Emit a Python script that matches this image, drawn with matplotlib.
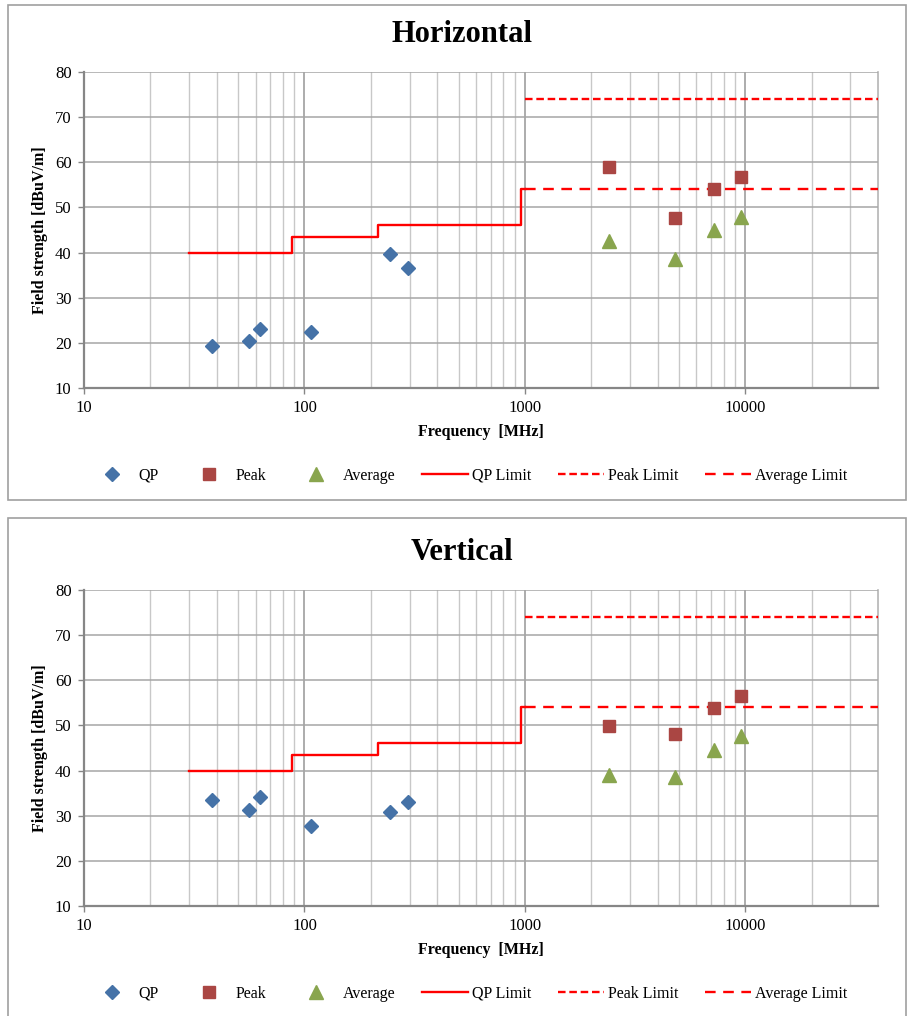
import matplotlib
matplotlib.use("Agg")
import matplotlib.pyplot as plt
from matplotlib.lines import Line2D
from matplotlib.patches import Rectangle
from matplotlib.ticker import LogLocator, FuncFormatter, NullFormatter

plt.rcParams['font.family'] = ['Liberation Serif', 'DejaVu Serif']

# ---- data ----
qp_freq = [38, 56, 63, 107, 244, 296]
h_qp = [19.2, 20.5, 23.1, 22.5, 39.7, 36.6]
v_qp = [33.5, 31.3, 34.1, 27.7, 30.8, 33.1]

hf_freq = [2400, 4800, 7200, 9600]
h_peak = [58.9, 47.6, 54.0, 56.8]
h_avg = [42.6, 38.5, 44.9, 47.8]
v_peak = [49.8, 48.0, 53.8, 56.5]
v_avg = [39.0, 38.5, 44.6, 47.7]

qp_limit_freq = [30, 88, 88, 216, 216, 960, 960, 1000]
qp_limit_val = [40, 40, 43.5, 43.5, 46, 46, 54, 54]
peak_limit_freq = [1000, 40000]
peak_limit_val = [74, 74]
avg_limit_freq = [1000, 40000]
avg_limit_val = [54, 54]

titles = ["Horizontal", "Vertical"]
x_ticks = [10, 100, 1000, 10000]
y_ticks = [10, 20, 30, 40, 50, 60, 70, 80]

c_qp = '#4572A7'
c_peak = '#AA4643'
c_avg = '#89A54E'
c_lim = '#FF0000'

ms_qp, ms_pk, ms_av = 7.6, 8.8, 10

W, H = 908, 1016
fig = plt.figure(figsize=(W / 100, H / 100), dpi=100)

def fx(px):
    return px / W

def fy(py):
    return 1 - py / H

panels = [
    dict(top=72, box=(8, 5, 906, 500), title_y=35, xl_y=432, leg_y=476, qp=h_qp, pk=h_peak, av=h_avg),
    dict(top=590, box=(8, 518, 906, 1030), title_y=553, xl_y=950, leg_y=994, qp=v_qp, pk=v_peak, av=v_avg),
]

for i, p in enumerate(panels):
    x0, y0, x1, y1 = p['box']
    fig.patches.append(Rectangle((fx(x0), fy(y1)), fx(x1 - x0), (y1 - y0) / H,
                                 transform=fig.transFigure, fill=False,
                                 edgecolor='#a0a0a0', linewidth=1.2, zorder=0))
    left, right = 84, 878
    top = p['top']
    bottom = top + 316
    ax = fig.add_axes([fx(left), fy(bottom), fx(right - left), 316 / H])
    ax.set_xscale('log')
    ax.set_xlim(10, 40000)
    ax.set_ylim(10, 80)
    ax.xaxis.set_minor_locator(LogLocator(base=10, subs=range(2, 10), numticks=20))
    ax.xaxis.set_major_formatter(FuncFormatter(lambda v, pos: f"{v:.0f}"))
    ax.xaxis.set_minor_formatter(NullFormatter())
    ax.set_xticks(x_ticks)
    ax.set_yticks(y_ticks)
    ax.grid(True, which='major', axis='y', color='#a6a6a6', linewidth=1.1)
    ax.grid(True, which='major', axis='x', color='#969696', linewidth=1.1)
    ax.grid(True, which='minor', axis='x', color='#c8c8c8', linewidth=1.0)
    ax.axvline(40000, color='#b4b4b4', linewidth=1.2, clip_on=False, zorder=0.5)
    ax.set_axisbelow(True)
    for s in ['top', 'right']:
        ax.spines[s].set_visible(False)
    for s in ['left', 'bottom']:
        ax.spines[s].set_color('#868686')
        ax.spines[s].set_linewidth(1.6)
    ax.tick_params(axis='both', which='major', length=4, width=1, color='#868686',
                   labelsize=12, pad=5)
    ax.tick_params(axis='x', which='minor', length=0)

    ax.plot(qp_limit_freq, qp_limit_val, color=c_lim, linewidth=1.7, label='QP Limit', zorder=3)
    ax.plot(peak_limit_freq, peak_limit_val, color=c_lim, linewidth=1.7,
            dashes=(3.2, 1.6), label='Peak Limit', zorder=3)
    ax.plot(avg_limit_freq, avg_limit_val, color=c_lim, linewidth=1.7,
            dashes=(4.5, 3.2), label='Average Limit', zorder=3)
    ax.plot(qp_freq, p['qp'], linestyle='none', marker='D', markersize=ms_qp,
            color=c_qp, label='QP', zorder=4)
    ax.plot(hf_freq, p['pk'], linestyle='none', marker='s', markersize=ms_pk,
            color=c_peak, label='Peak', zorder=4)
    ax.plot(hf_freq, p['av'], linestyle='none', marker='^', markersize=ms_av,
            color=c_avg, label='Average', zorder=4)

    fig.text(fx(462), fy(p['title_y']), titles[i], ha='center', va='center',
             fontsize=22, fontweight='bold')
    fig.text(fx(481), fy(p['xl_y']), 'Frequency  [MHz]', ha='center', va='center',
             fontsize=11.5, fontweight='bold')
    fig.text(fx(40), fy(top + 158), 'Field strength [dBuV/m]', ha='center', va='center',
             rotation=90, fontsize=11.5, fontweight='bold')

    handles = [
        Line2D([], [], linestyle='none', marker='D', markersize=ms_qp - 0.6, color=c_qp),
        Line2D([], [], linestyle='none', marker='s', markersize=ms_pk - 0.4, color=c_peak),
        Line2D([], [], linestyle='none', marker='^', markersize=ms_av - 0.5, color=c_avg),
        Line2D([], [], color=c_lim, linewidth=1.7),
        Line2D([], [], color=c_lim, linewidth=1.7, dashes=(3.2, 1.6)),
        Line2D([], [], color=c_lim, linewidth=1.7, dashes=(4.5, 3.2)),
    ]
    labels = ['QP', 'Peak', 'Average', 'QP Limit', 'Peak Limit', 'Average Limit']
    fig.legend(handles, labels, loc='center', bbox_to_anchor=(fx(468), fy(p['leg_y'])),
               ncol=6, frameon=False, fontsize=11.5, handlelength=2.9,
               handletextpad=0.25, columnspacing=1.65, borderaxespad=0, borderpad=0)

fig.savefig('out.png', dpi=100)
